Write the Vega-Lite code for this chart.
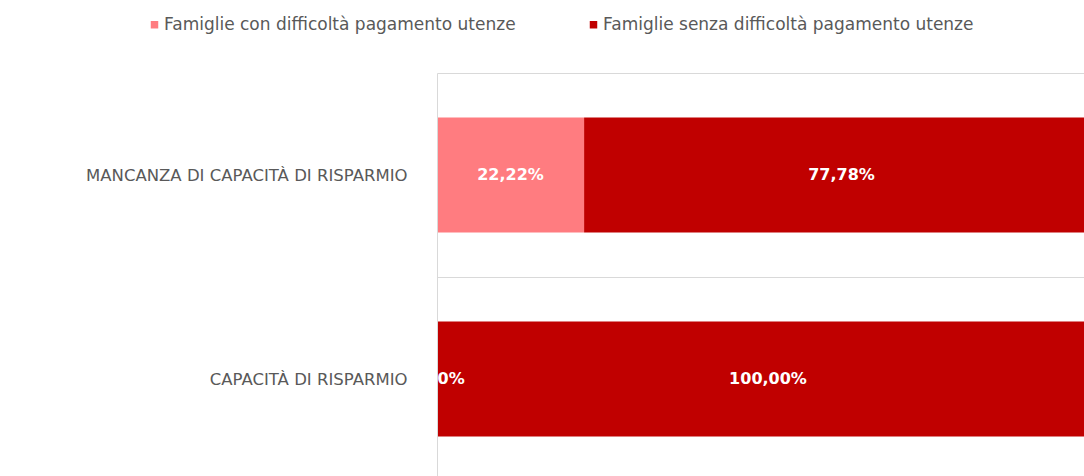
{
  "$schema": "https://vega.github.io/schema/vega-lite/v6.json",
  "width": 647,
  "height": 403,
  "autosize": {"type": "none"},
  "padding": {"left": 437, "top": 73, "right": 0, "bottom": 0},
  "background": "white",
  "config": {
    "view": {"stroke": null},
    "font": "DejaVu Sans"
  },
  "data": {
    "values": [
      {"cat": "MANCANZA DI CAPACITÀ DI RISPARMIO", "serie": "Famiglie con difficoltà pagamento utenze", "value": 22.22, "label": "22,22%"},
      {"cat": "MANCANZA DI CAPACITÀ DI RISPARMIO", "serie": "Famiglie senza difficoltà pagamento utenze", "value": 77.78, "label": "77,78%"},
      {"cat": "CAPACITÀ DI RISPARMIO", "serie": "Famiglie con difficoltà pagamento utenze", "value": 0, "label": "0,00%"},
      {"cat": "CAPACITÀ DI RISPARMIO", "serie": "Famiglie senza difficoltà pagamento utenze", "value": 100, "label": "100,00%"}
    ]
  },
  "encoding": {
    "y": {
      "field": "cat", "type": "nominal",
      "sort": ["MANCANZA DI CAPACITÀ DI RISPARMIO", "CAPACITÀ DI RISPARMIO"],
      "scale": {"range": [0, 408], "paddingInner": 0, "paddingOuter": 0},
      "axis": {
        "title": null, "zindex": 1, "domain": true, "domainColor": "#D9D9D9", "ticks": false,
        "grid": true, "gridColor": "#D9D9D9", "gridWidth": 1, "tickBand": "extent",
        "labelFontSize": 16.5, "labelColor": "#595959", "labelPadding": 30, "labelLimit": 0,
        "labelFont": "DejaVu Sans"
      }
    },
    "x": {
      "field": "value", "type": "quantitative", "stack": "zero",
      "scale": {"domain": [0, 100], "range": [0, 662], "nice": false},
      "axis": null
    },
    "order": {"field": "serie", "sort": "ascending"}
  },
  "layer": [
    {
      "mark": {"type": "bar", "height": {"band": 0.5637}},
      "encoding": {
        "color": {
          "field": "serie", "type": "nominal",
          "scale": {
            "domain": ["Famiglie con difficoltà pagamento utenze", "Famiglie senza difficoltà pagamento utenze"],
            "range": ["#FF7C80", "#C00000"]
          },
          "legend": {
            "title": null, "orient": "none", "legendX": -291, "legendY": -57,
            "direction": "horizontal", "symbolType": "square", "symbolSize": 56,
            "symbolStrokeWidth": 0, "labelFontSize": 17, "labelColor": "#595959",
            "labelFont": "DejaVu Sans", "labelOffset": 1, "columnPadding": 69, "labelLimit": 0
          }
        }
      }
    },
    {
      "mark": {"type": "text", "color": "white", "fontWeight": "bold", "fontSize": 16, "font": "DejaVu Sans"},
      "encoding": {
        "x": {"field": "value", "type": "quantitative", "stack": "zero", "bandPosition": 0.5},
        "detail": {"field": "serie"},
        "text": {"field": "label"}
      }
    }
  ]
}
